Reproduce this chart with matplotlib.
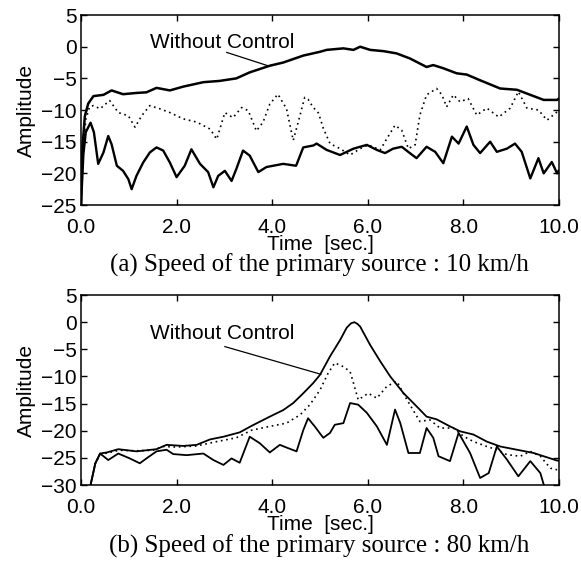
import matplotlib
matplotlib.use("Agg")
import matplotlib.pyplot as plt

# (a) 10 km/h
t_a_wo = [0.0, 0.03, 0.08, 0.15, 0.26, 0.47, 0.64, 0.88, 1.16, 1.37, 1.58, 1.86, 2.14, 2.56,
          2.9, 3.25, 3.53, 3.95, 4.23, 4.65, 5.0, 5.14, 5.49, 5.70, 5.84, 6.05, 6.33, 6.6,
          6.88, 7.23, 7.37, 7.58, 7.86, 8.07, 8.35, 8.77, 9.12, 9.4, 9.68, 9.96, 10.0]
v_a_wo = [-25, -16, -11, -9, -7.8, -7.6, -6.9, -7.5, -7.3, -7.2, -6.5, -6.9, -6.3, -5.6,
          -5.4, -5.0, -4.05, -3.0, -2.5, -1.4, -0.8, -0.5, -0.26, -0.5, 0.0, -0.5, -0.7, -1.05,
          -1.85, -3.2, -2.9, -3.4, -4.2, -4.4, -5.3, -6.6, -6.8, -7.6, -8.4, -8.4, -8.2]

t_a_dot = [0.0, 0.05, 0.1, 0.18, 0.26, 0.4, 0.6, 0.78, 0.99, 1.13, 1.27, 1.44, 1.65, 1.86,
           2.14, 2.42, 2.7, 2.84, 3.01, 3.18, 3.36, 3.5, 3.67, 3.81, 3.95, 4.12, 4.3, 4.44,
           4.58, 4.68, 4.75, 4.85, 4.97, 5.07, 5.21, 5.42, 5.63, 5.84, 6.01, 6.26, 6.4, 6.57,
           6.71, 6.85, 6.99, 7.09, 7.23, 7.44, 7.55, 7.65, 7.79, 7.93, 8.1, 8.28, 8.49, 8.74,
           8.98, 9.15, 9.33, 9.57, 9.75, 9.96]
v_a_dot = [-25, -16.5, -11.5, -9.5, -9.3, -9.8, -8.5, -10.4, -10.9, -12.7, -10.9, -9.3, -9.8, -10.4,
           -11.4, -11.9, -13.0, -14.6, -10.4, -11.2, -9.6, -10.1, -13.3, -11.9, -9.05, -7.5, -9.8, -14.8,
           -10.9, -8.0, -8.3, -9.5, -10.5, -12.9, -15.3, -16.1, -17.1, -16.1, -15.5, -16.3, -14.5, -12.4,
           -13.2, -16.1, -15.5, -10.8, -7.6, -6.6, -7.6, -9.5, -7.6, -8.7, -8.2, -10.8, -9.7, -11.1,
           -9.7, -7.1, -9.7, -10.0, -11.6, -10.3]

t_a_w = [0.0, 0.05, 0.1, 0.2, 0.27, 0.36, 0.47, 0.57, 0.64, 0.75, 0.88, 0.99, 1.06, 1.16, 1.3,
         1.44, 1.58, 1.72, 1.86, 2.0, 2.17, 2.31, 2.49, 2.66, 2.77, 2.87, 3.01, 3.15, 3.25, 3.39,
         3.53, 3.71, 3.88, 4.23, 4.5, 4.65, 4.86, 4.93, 5.14, 5.42, 5.7, 5.98, 6.19, 6.36, 6.53,
         6.71, 6.88, 7.02, 7.23, 7.41, 7.58, 7.76, 7.9, 8.07, 8.21, 8.35, 8.56, 8.7, 8.91, 9.08,
         9.22, 9.4, 9.57, 9.68, 9.85, 9.96, 10.0]
v_a_w = [-25, -17, -13.5, -12.0, -13.5, -18.5, -16.7, -14.1, -15.4, -18.8, -19.6, -20.9, -22.5, -20.4, -18.3,
         -16.7, -15.9, -16.4, -18.3, -20.6, -18.8, -16.2, -18.5, -19.8, -22.2, -20.4, -19.6, -21.2, -19.3, -16.4,
         -17.2, -19.8, -19.0, -18.5, -18.8, -15.9, -15.6, -15.3, -16.3, -17.1, -16.1, -15.5, -16.3, -16.8, -16.1,
         -15.8, -16.8, -17.6, -15.8, -16.6, -18.4, -14.2, -15.3, -12.6, -15.5, -16.8, -15.0, -16.6, -16.1, -15.3,
         -16.6, -20.8, -17.6, -20.0, -18.2, -20.0, -19.5]

# (b) 80 km/h
t_b_wo = [0.2, 0.3, 0.4, 0.54, 0.78, 1.16, 1.58, 1.79, 2.14, 2.42, 2.7, 2.98, 3.32, 3.57, 3.95,
          4.23, 4.44, 4.65, 4.86, 5.0, 5.21, 5.42, 5.56, 5.65, 5.72, 5.78, 5.84, 6.05, 6.26, 6.47,
          6.75, 7.02, 7.23, 7.44, 7.72, 7.93, 8.21, 8.49, 8.77, 9.12, 9.47, 9.68, 9.96, 10.0]
v_b_wo = [-30, -26, -24.2, -24.0, -23.4, -23.8, -23.4, -22.6, -22.8, -22.6, -21.6, -21.1, -20.3, -19.1, -17.4,
          -16.2, -14.9, -13.1, -11.2, -9.7, -6.3, -3.3, -1.0, -0.2, 0.0, -0.3, -0.8, -4.2, -7.2, -10.0,
          -13.1, -15.5, -17.4, -17.9, -19.2, -20.1, -20.7, -22.0, -22.9, -23.5, -24.1, -24.7, -25.5, -25.5]

t_b_dot = [0.2, 0.3, 0.4, 0.6, 0.8, 1.16, 1.5, 1.72, 2.0, 2.42, 2.84, 3.25, 3.57, 3.95, 4.3,
           4.58, 4.79, 5.0, 5.17, 5.31, 5.49, 5.63, 5.7, 5.8, 6.01, 6.19, 6.4, 6.61, 6.82, 7.09,
           7.3, 7.51, 7.79, 8.0, 8.21, 8.49, 8.7, 8.91, 9.19, 9.4, 9.61, 9.82, 9.96]
v_b_dot = [-30, -26, -24.4, -24.0, -23.6, -23.7, -23.6, -22.9, -23.0, -22.8, -22.0, -21.3, -19.9, -19.2, -18.6,
           -17.1, -15.2, -12.5, -9.4, -7.5, -8.2, -9.1, -11.2, -14.3, -13.1, -14.0, -11.8, -10.9, -14.3, -18.3,
           -18.0, -19.5, -19.5, -21.0, -22.0, -22.9, -23.5, -24.4, -24.7, -23.8, -24.7, -26.9, -27.2]

t_b_w = [0.2, 0.3, 0.4, 0.57, 0.78, 1.02, 1.23, 1.37, 1.58, 1.79, 1.93, 2.21, 2.56, 2.77, 2.98,
         3.15, 3.32, 3.53, 3.74, 3.95, 4.16, 4.33, 4.51, 4.65, 4.75, 4.89, 5.0, 5.07, 5.21, 5.31,
         5.49, 5.63, 5.8, 5.98, 6.19, 6.4, 6.57, 6.68, 6.85, 7.09, 7.23, 7.37, 7.48, 7.72, 7.9,
         8.14, 8.35, 8.53, 8.7, 8.91, 9.15, 9.4, 9.61, 9.68, 9.75]
v_b_w = [-30, -26, -24.2, -25.4, -24.2, -25.1, -26.0, -25.1, -23.8, -23.5, -24.3, -24.5, -24.2, -25.4, -26.3,
         -25.1, -25.9, -21.1, -22.3, -24.0, -22.6, -23.2, -23.8, -19.9, -17.7, -19.2, -20.5, -21.3, -20.4, -18.9,
         -18.6, -14.9, -15.2, -16.7, -19.2, -22.6, -16.1, -18.6, -24.1, -24.1, -19.5, -21.3, -24.7, -25.6, -20.4,
         -24.1, -28.7, -27.8, -22.9, -25.3, -28.4, -25.6, -27.8, -29.9, -31]

xticks = [0, 2, 4, 6, 8, 10]
yticks_a = [5, 0, -5, -10, -15, -20, -25]
yticks_b = [5, 0, -5, -10, -15, -20, -25, -30]
captions = ["(a) Speed of the primary source : 10 km/h",
            "(b) Speed of the primary source : 80 km/h"]

plt.rcParams['font.family'] = ['Liberation Sans', 'DejaVu Sans']

fig = plt.figure(figsize=(5.81, 5.62), dpi=100)
ax1 = fig.add_axes([0.1394, 0.6352, 0.8227, 0.338])
ax2 = fig.add_axes([0.1394, 0.137, 0.8227, 0.338])

dots = (0, (1, 2.2))
rnd = dict(solid_joinstyle='round', solid_capstyle='round')

ax1.plot(t_a_wo, v_a_wo, color='black', lw=1.8, **rnd)
ax1.plot(t_a_dot, v_a_dot, color='black', lw=1.2, linestyle=dots)
ax1.plot(t_a_w, v_a_w, color='black', lw=1.7, **rnd)
ax1.text(1.44, 0.6, "Without Control", fontsize=15, va='center', ha='left')
ax1.plot([3.05, 3.95], [-0.9, -3.1], color='black', lw=0.9)

ax2.plot(t_b_wo, v_b_wo, color='black', lw=1.3, **rnd)
ax2.plot(t_b_dot, v_b_dot, color='black', lw=1.2, linestyle=dots)
ax2.plot(t_b_w, v_b_w, color='black', lw=1.3, **rnd)
ax2.text(1.44, -2.0, "Without Control", fontsize=15, va='center', ha='left')
ax2.plot([3.01, 5.02], [-4.5, -9.6], color='black', lw=0.9)

for ax, yt, cap, capy in [(ax1, yticks_a, captions[0], 0.5285), (ax2, yticks_b, captions[1], 0.0285)]:
    ax.set_xlim(0, 10)
    ax.set_ylim(min(yt), max(yt))
    ax.set_xticks(xticks)
    ax.set_xticklabels(["%.1f" % x for x in xticks])
    ax.set_yticks(yt)
    ax.tick_params(direction='in', length=4, width=1, top=True, right=True,
                   labelsize=15, pad=3)
    ax.tick_params(axis='x', pad=9)
    for s in ax.spines.values():
        s.set_linewidth(1.1)
    ax.set_xlabel("Time  [sec.]", fontsize=15)
    ax.xaxis.set_label_coords(0.5, -0.158)
    ax.set_ylabel("Amplitude", fontsize=15)
    ax.yaxis.set_label_coords(-0.095, 0.5)
    fig.text(0.549, capy, cap, fontsize=18, family='Liberation Serif',
             ha='center', va='center')

fig.savefig("out.png", dpi=100)
